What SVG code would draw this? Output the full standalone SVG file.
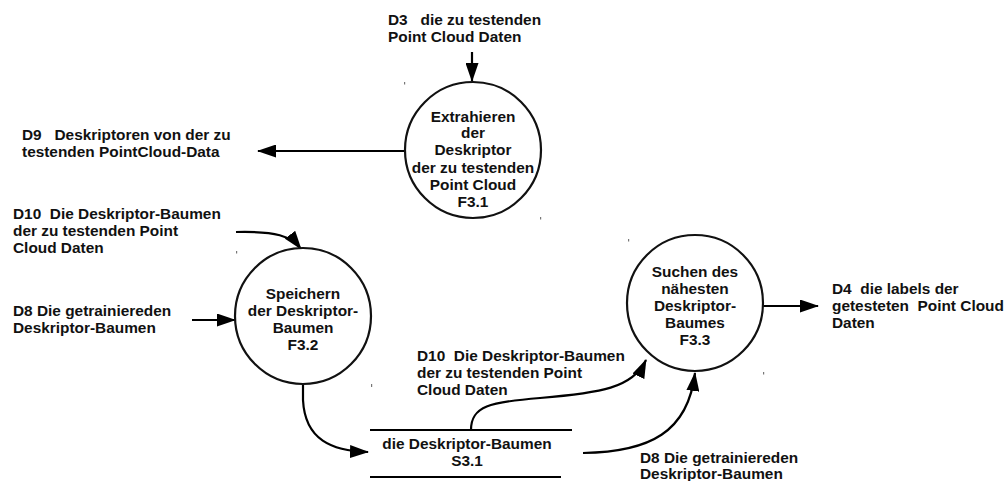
<svg xmlns="http://www.w3.org/2000/svg" width="1007" height="481" viewBox="0 0 1007 481">
  <defs>
    <marker id="arrow" markerUnits="userSpaceOnUse" markerWidth="19" markerHeight="13" refX="18" refY="6.5" orient="auto">
      <path d="M0,0 L19,6.5 L0,13 z" fill="#000"/>
    </marker>
    <style>
      text { font-family: "Liberation Sans", Arial, sans-serif; font-weight: bold; font-size: 15.4px; fill: #111; white-space: pre; }
      .c { text-anchor: middle; }
      .proc { fill: #fff; stroke: #111; stroke-width: 2.2; }
      .flow { fill: none; stroke: #000; stroke-width: 2.2; marker-end: url(#arrow); }
      .store { stroke: #000; stroke-width: 2.2; }
      .speck { fill: #777; }
    </style>
  </defs>
  <rect width="1007" height="481" fill="#fff"/>

  <!-- data flows -->
  <g id="connectors">
    <path class="flow" d="M472,52 L472,81"/>
    <path class="flow" d="M405,151 L258,151"/>
    <path class="flow" d="M236,232 C276,231 291,236 301,249"/>
    <path class="flow" d="M192,320 L235,320"/>
    <path class="flow" d="M303,384 L303,400 C305,440 332,451 368,452"/>
    <path class="flow" d="M471,430 C471,406 490,402 540,398 C600,393 633,388 646,360"/>
    <path class="flow" d="M583,453 C650,452 688,432 695,373"/>
    <path class="flow" d="M763,306 L818,306"/>
  </g>

  <!-- external data labels -->
  <g id="d3">
    <text x="388" y="25" xml:space="preserve">D3   die zu testenden</text>
    <text x="388" y="42">Point Cloud Daten</text>
  </g>
  <g id="d9">
    <text x="22" y="140" xml:space="preserve">D9   Deskriptoren von der zu</text>
    <text x="22" y="157">testenden PointCloud-Data</text>
  </g>
  <g id="d10-left">
    <text x="13" y="219" xml:space="preserve">D10  Die Deskriptor-Baumen</text>
    <text x="13" y="236">der zu testenden Point</text>
    <text x="13" y="253">Cloud Daten</text>
  </g>
  <g id="d8-left">
    <text x="13" y="316">D8 Die getrainiereden</text>
    <text x="13" y="333">Deskriptor-Baumen</text>
  </g>
  <g id="d10-mid">
    <text x="417" y="361" xml:space="preserve">D10  Die Deskriptor-Baumen</text>
    <text x="417" y="378">der zu testenden Point</text>
    <text x="417" y="395">Cloud Daten</text>
  </g>
  <g id="d8-bottom">
    <text x="640" y="463">D8 Die getrainiereden</text>
    <text x="640" y="479">Deskriptor-Baumen</text>
  </g>
  <g id="d4">
    <text x="832" y="294" xml:space="preserve">D4  die labels der</text>
    <text x="832" y="311" xml:space="preserve">getesteten  Point Cloud</text>
    <text x="832" y="328">Daten</text>
  </g>

  <!-- processes -->
  <g id="f3-1">
    <circle class="proc" cx="473" cy="150" r="68"/>
    <text class="c" x="473" y="122">Extrahieren</text>
    <text class="c" x="473" y="138">der</text>
    <text class="c" x="473" y="155">Deskriptor</text>
    <text class="c" x="473" y="173">der zu testenden</text>
    <text class="c" x="473" y="190">Point Cloud</text>
    <text class="c" x="473" y="207">F3.1</text>
  </g>
  <g id="f3-2">
    <circle class="proc" cx="303" cy="316" r="68"/>
    <text class="c" x="303" y="299">Speichern</text>
    <text class="c" x="303" y="316">der Deskriptor-</text>
    <text class="c" x="303" y="333">Baumen</text>
    <text class="c" x="303" y="350">F3.2</text>
  </g>
  <g id="f3-3">
    <circle class="proc" cx="695" cy="303" r="68"/>
    <text class="c" x="695" y="277">Suchen des</text>
    <text class="c" x="695" y="294">nähesten</text>
    <text class="c" x="695" y="311">Deskriptor-</text>
    <text class="c" x="695" y="328">Baumes</text>
    <text class="c" x="695" y="345">F3.3</text>
  </g>

  <!-- data store -->
  <g id="s3-1">
    <line class="store" x1="370" y1="430" x2="572" y2="430"/>
    <line class="store" x1="370" y1="477" x2="561" y2="477"/>
    <text class="c" x="467" y="449">die Deskriptor-Baumen</text>
    <text class="c" x="467" y="466">S3.1</text>
  </g>

  <!-- small leftover handle marks -->
  <g id="specks">
    <rect class="speck" x="404" y="82" width="1.2" height="2.5"/>
    <rect class="speck" x="540" y="217" width="1.2" height="2.5"/>
    <rect class="speck" x="236" y="251" width="1.2" height="2.5"/>
    <rect class="speck" x="371" y="384" width="1.2" height="3"/>
    <rect class="speck" x="628" y="239" width="1.2" height="2.5"/>
    <rect class="speck" x="763" y="372" width="1.2" height="2.5"/>
  </g>
</svg>
